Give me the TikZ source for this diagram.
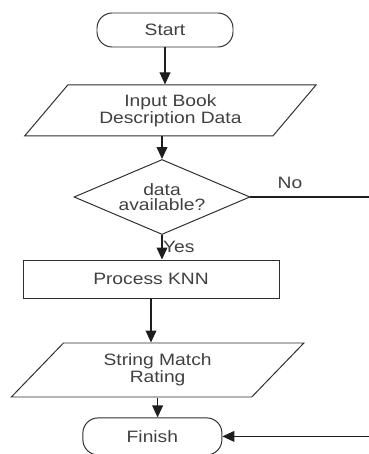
\documentclass[tikz,border=0pt]{standalone}
\usepackage{fontspec}
\setmainfont{Liberation Sans}[FakeStretch=1.17]
\usetikzlibrary{arrows.meta,shapes.geometric}
\definecolor{flink}{HTML}{1E1E1E}
\definecolor{flborder}{HTML}{2E2E2E}
\definecolor{fltext}{HTML}{404040}

\begin{document}
\begin{tikzpicture}[
  every node/.style={font=\fontsize{11.7}{10.8}\selectfont,align=center,text=fltext},
  term/.style={rectangle,draw=flborder,line width=0.7pt,rounded corners=0.38cm,
               minimum width=3.4cm,minimum height=0.85cm},
  io/.style={trapezium,trapezium left angle=47,trapezium right angle=133,
             trapezium stretches=true,draw=flborder,line width=0.7pt,inner sep=0pt},
  proc/.style={rectangle,draw=flborder,line width=0.7pt,
               minimum width=6.4cm,minimum height=0.95cm},
  decide/.style={diamond,aspect=2.35,inner sep=0pt,draw=flborder,line width=0.7pt,
                 minimum width=4.4cm,minimum height=1.875cm},
  arr/.style={-{Triangle[length=0.3cm,width=0.27cm]},line width=0.85pt,color=flink}
]
\useasboundingbox (0,0) rectangle (9.2,-11.35);

\node[term] (start) at (4.125,-0.75) {Start};
\node[io,minimum width=7.3cm,minimum height=1.275cm] (in1) at (4.26,-2.76)
  {Input Book\\Description Data};
\node[decide] (dec) at (4.05,-4.925) {data\\available?};
\node[proc] (knn) at (3.775,-6.975) {Process KNN};
\node[io,minimum width=7.325cm,minimum height=1.35cm] (in2) at (3.94,-9.25)
  {String Match\\Rating};
\node[term,minimum width=3.475cm,minimum height=0.925cm] (fin) at (3.81,-10.91) {Finish};
\coordinate (rim) at (9.3,-4.925);

\draw[arr] (start) -- (start |- in1.north);
\draw[arr] (dec.north |- in1.south) -- (dec.north);
\draw[arr] (dec.south) -- (dec.south |- knn.north);
\draw[arr] (knn.south) -- (knn.south |- in2.north);
\draw[arr] (in2.south) -- (in2.south |- fin.north);
\draw[arr] (dec.east) -- (rim) |- (fin.east);

\node (yes) at (4.47,-6.18) {Yes};
\node (no) at (7.25,-4.57) {No};
\end{tikzpicture}
\end{document}
